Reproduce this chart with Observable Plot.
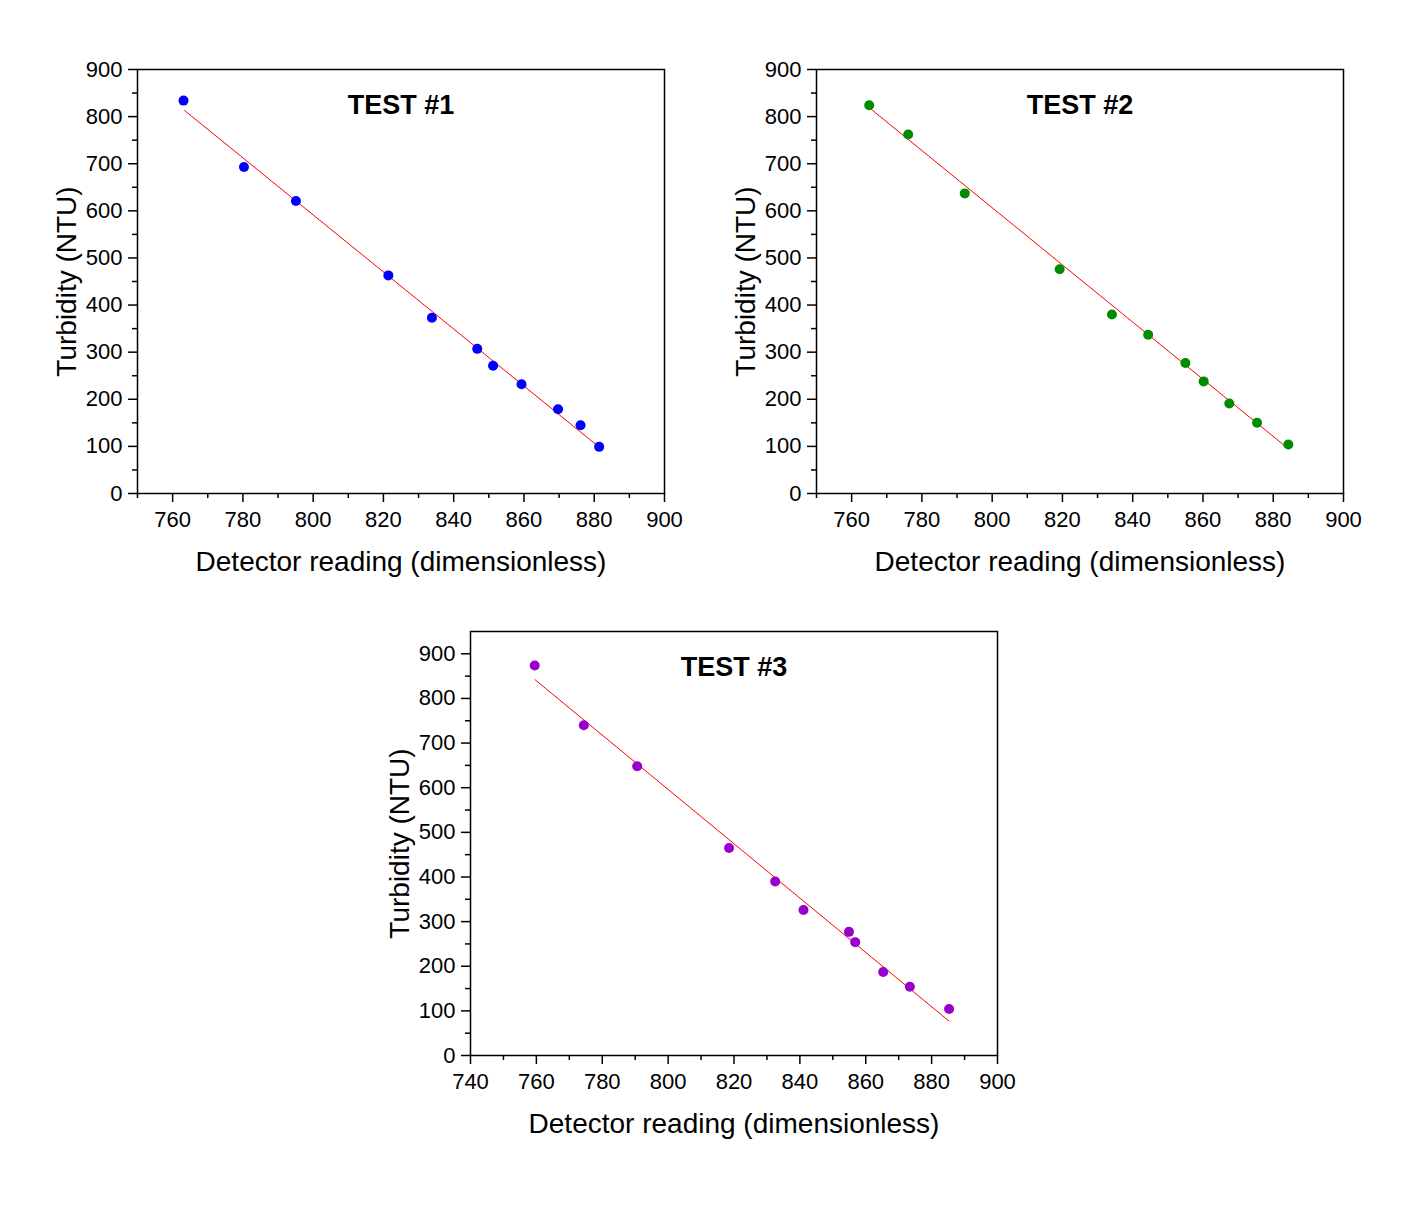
<!DOCTYPE html>
<html>
<head>
<meta charset="utf-8">
<script src="https://cdn.jsdelivr.net/npm/d3@7"></script>
<script src="https://cdn.jsdelivr.net/npm/@observablehq/plot@0.6"></script>
<style>
  html, body { margin: 0; padding: 0; background: white; }
  #wrap { position: relative; width: 1422px; height: 1208px; background: white; }
</style>
</head>
<body>
<div id="wrap"></div>
<script>
// ---- Data ----
const test1X = [763.1, 780.3, 795.1, 821.4, 833.8, 846.7, 851.2, 859.3, 869.7, 876.1, 881.4];
const test1Y = [834, 693, 621, 463, 373, 307, 271, 232, 179, 145, 99];
const fit1X = [763.4, 880.4];
const fit1Y = [813, 104.5];

const test2X = [765.0, 776.1, 792.2, 819.2, 834.1, 844.4, 855.0, 860.2, 867.5, 875.4, 884.3];
const test2Y = [824, 762, 637, 476, 380, 337, 277, 238, 191, 150, 104];
const fit2X = [765.0, 884.3];
const fit2Y = [819, 95];

const test3X = [759.5, 774.4, 790.6, 818.5, 832.5, 841.1, 854.9, 856.8, 865.3, 873.4, 885.3];
const test3Y = [874, 740, 648, 465, 390, 326, 277, 254, 187, 154, 104];
const fit3X = [759.6, 885.3];
const fit3Y = [842, 77];

const titles = ["TEST #1", "TEST #2", "TEST #3"];
const xLabel = "Detector reading (dimensionless)";
const yLabel = "Turbidity (NTU)";

const xTicksA = [760, 780, 800, 820, 840, 860, 880, 900];
const xMinorA = [750, 770, 790, 810, 830, 850, 870, 890];
const xTicksB = [740, 760, 780, 800, 820, 840, 860, 880, 900];
const xMinorB = [750, 770, 790, 810, 830, 850, 870, 890];
const yTicks = [0, 100, 200, 300, 400, 500, 600, 700, 800, 900];
const yMinor = [50, 150, 250, 350, 450, 550, 650, 750, 850];

const colors = ["#0000ff", "#008c00", "#9900cc"];

function panel({xs, ys, fx, fy, color, title, xDomain, yDomain, xTicks, xMinor}) {
  const pts = xs.map((x, i) => ({x, y: ys[i]}));
  const fit = fx.map((x, i) => ({x, y: fy[i]}));
  return Plot.plot({
    width: 711,
    height: 600,
    marginLeft: 137,
    marginRight: 47,
    marginTop: 69,
    marginBottom: 107,
    x: {domain: xDomain},
    y: {domain: yDomain},
    style: {fontFamily: "'Liberation Sans', Arial, sans-serif", fontSize: "22px", color: "black", background: "transparent", overflow: "visible"},
    marks: [
      Plot.axisX(xMinor, {tickSize: 5, tickFormat: () => "", label: null, strokeWidth: 1.5}),
      Plot.axisX(xTicks, {tickSize: 9, tickPadding: 9, label: null, strokeWidth: 1.5, fontSize: 22}),
      Plot.axisY(yMinor, {tickSize: 5, tickFormat: () => "", label: null, strokeWidth: 1.5}),
      Plot.axisY(yTicks, {tickSize: 9, tickPadding: 6, label: null, strokeWidth: 1.5, fontSize: 22}),
      Plot.frame({stroke: "black", strokeWidth: 1.5}),
      Plot.line(fit, {x: "x", y: "y", stroke: "#ff0000", strokeWidth: 1}),
      Plot.dot(pts, {x: "x", y: "y", r: 5, fill: color, stroke: "none"}),
      Plot.text([title], {frameAnchor: "top", dy: 44, lineAnchor: "bottom", textAnchor: "middle", fontWeight: "bold", fontSize: 27, fill: "black"}),
      Plot.text([xLabel], {frameAnchor: "bottom", dy: 77, lineAnchor: "bottom", textAnchor: "middle", fontSize: 28, fill: "black"}),
      Plot.text([yLabel], {frameAnchor: "left", dx: -62, rotate: -90, lineAnchor: "bottom", textAnchor: "middle", fontSize: 28, fill: "black"})
    ]
  });
}

const wrap = document.getElementById("wrap");
const specs = [
  {xs: test1X, ys: test1Y, fx: fit1X, fy: fit1Y, color: colors[0], title: titles[0], xDomain: [750, 900], yDomain: [0, 900], xTicks: xTicksA, xMinor: xMinorA, left: 0, top: 0},
  {xs: test2X, ys: test2Y, fx: fit2X, fy: fit2Y, color: colors[1], title: titles[1], xDomain: [750, 900], yDomain: [0, 900], xTicks: xTicksA, xMinor: xMinorA, left: 679, top: 0},
  {xs: test3X, ys: test3Y, fx: fit3X, fy: fit3Y, color: colors[2], title: titles[2], xDomain: [740, 900], yDomain: [0, 950], xTicks: xTicksB, xMinor: xMinorB, left: 333, top: 562}
];
for (const s of specs) {
  const el = panel(s);
  el.style.position = "absolute";
  el.style.left = s.left + "px";
  el.style.top = s.top + "px";
  wrap.appendChild(el);
}
</script>
</body>
</html>
